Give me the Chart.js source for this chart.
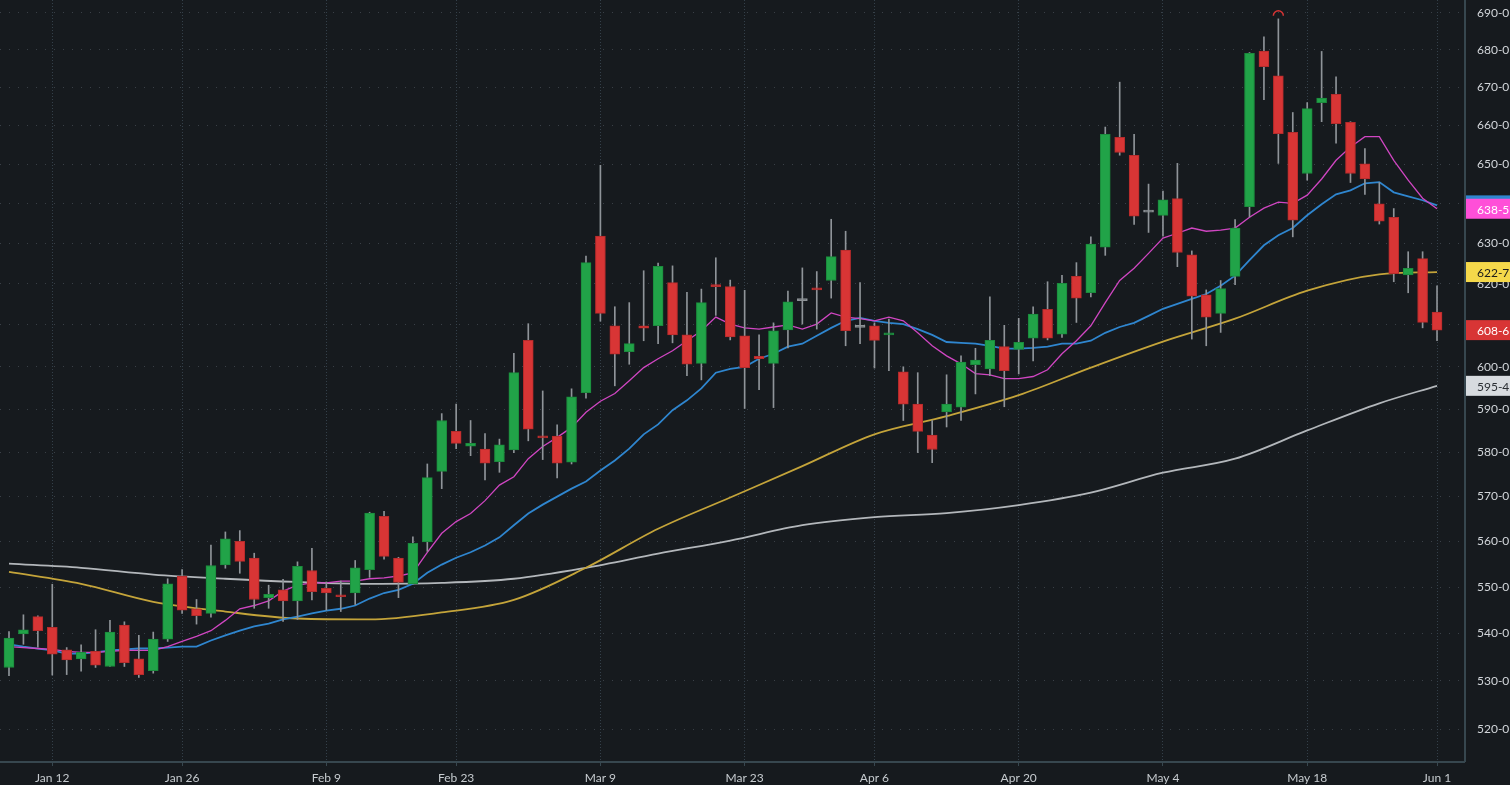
<!DOCTYPE html>
<html>
<head>
<meta charset="utf-8">
<script src="https://cdn.jsdelivr.net/npm/chart.js@4.4.1/dist/chart.umd.min.js"></script>
<style>
html, body { margin: 0; padding: 0; background: #161a1e; }
#wrap { width: 1510px; height: 785px; position: relative; }
</style>
</head>
<body>
<div id="wrap"><canvas id="chart"></canvas></div>
<script>
// Velas diarias (Jan 7 -> Jun 1), precios en centavos
const opens = [532.8, 539.9, 543.6, 541.3, 536.5, 534.6, 536.2, 533.0, 541.8, 534.6,
  532.1, 538.8, 552.4, 545.3, 544.3, 554.8, 560.0, 556.3, 547.7, 549.4,
  547.0, 553.6, 549.7, 548.2, 548.7, 553.8, 565.6, 556.3, 550.7, 559.9,
  575.7, 584.9, 581.5, 580.8, 577.9, 580.6, 606.3, 583.6, 583.8, 577.8,
  593.9, 631.8, 609.8, 603.6, 609.8, 609.8, 620.3, 607.6, 600.8, 619.8,
  619.3, 607.4, 602.5, 600.8, 608.8, 615.9, 618.7, 620.8, 628.3, 609.4,
  609.8, 607.6, 598.8, 591.2, 584.0, 589.4, 590.5, 600.5, 599.5, 604.8,
  604.1, 606.8, 613.8, 607.8, 621.8, 617.8, 629.0, 656.9, 652.3, 637.8,
  637.0, 641.2, 627.1, 617.3, 612.8, 621.8, 639.2, 679.7, 673.1, 658.2,
  647.6, 666.0, 668.2, 660.8, 650.1, 639.9, 636.5, 622.2, 626.2, 613.1];
const highs = [540.4, 544.0, 543.8, 550.6, 537.0, 537.6, 540.8, 542.8, 542.5, 539.6,
  540.3, 551.8, 553.8, 547.3, 559.2, 562.1, 562.4, 557.4, 550.4, 551.7,
  555.5, 558.5, 551.1, 551.3, 555.8, 566.5, 566.7, 556.5, 561.0, 577.4,
  589.0, 591.2, 587.4, 584.4, 583.1, 603.2, 610.3, 594.3, 586.4, 594.8,
  626.8, 649.7, 614.4, 615.4, 623.2, 625.1, 624.4, 617.9, 618.7, 626.4,
  620.9, 618.4, 607.6, 610.5, 618.2, 623.9, 623.0, 636.0, 633.0, 620.3,
  610.5, 611.4, 600.0, 598.6, 587.4, 598.1, 602.6, 604.4, 616.8, 609.9,
  611.6, 614.4, 620.5, 622.1, 625.2, 631.6, 659.6, 671.4, 657.7, 644.9,
  643.1, 650.2, 628.1, 618.5, 620.8, 635.9, 679.3, 683.5, 688.4, 663.4,
  666.0, 679.6, 672.8, 661.0, 654.0, 645.3, 638.7, 627.9, 627.9, 619.5];
const lows = [531.1, 537.7, 537.1, 531.2, 531.3, 532.0, 532.8, 533.0, 533.0, 530.7,
  531.6, 538.3, 544.3, 542.0, 543.5, 554.1, 553.0, 545.4, 545.4, 542.6,
  543.0, 547.2, 545.0, 544.7, 546.2, 552.1, 556.1, 547.7, 550.7, 557.8,
  571.8, 580.9, 579.3, 573.8, 575.5, 580.0, 582.7, 578.4, 574.2, 577.4,
  592.6, 610.9, 595.5, 600.6, 606.2, 605.5, 605.7, 597.9, 596.9, 612.3,
  606.4, 590.2, 594.6, 590.4, 604.5, 610.2, 609.0, 616.5, 605.0, 605.5,
  599.7, 599.1, 587.4, 580.0, 577.7, 585.9, 587.4, 593.6, 597.9, 590.6,
  598.3, 601.4, 606.4, 607.0, 610.6, 616.8, 627.0, 652.3, 634.7, 632.7,
  631.8, 624.2, 606.6, 605.0, 608.2, 619.8, 636.6, 666.8, 650.2, 631.6,
  645.9, 661.0, 655.4, 645.3, 642.3, 634.8, 620.5, 617.8, 609.3, 606.2];
const closes = [539.0, 540.8, 540.6, 535.6, 534.4, 536.0, 533.3, 540.3, 533.8, 531.3,
  538.8, 550.7, 545.0, 543.8, 554.7, 560.6, 555.6, 547.3, 548.4, 547.0,
  554.5, 549.0, 548.7, 547.9, 554.2, 566.3, 556.7, 551.0, 559.6, 574.3,
  587.4, 582.1, 582.1, 577.6, 581.8, 598.6, 585.4, 583.4, 577.6, 592.9,
  625.2, 612.8, 603.0, 605.5, 609.2, 624.3, 607.6, 600.6, 615.4, 619.3,
  607.1, 599.8, 601.9, 608.6, 615.6, 615.9, 618.5, 626.7, 608.6, 609.4,
  606.3, 608.0, 591.2, 584.9, 580.7, 591.2, 601.1, 601.6, 606.3, 599.1,
  605.8, 612.6, 606.8, 620.1, 616.5, 629.8, 657.7, 653.0, 636.8, 637.8,
  640.9, 627.7, 617.0, 611.9, 618.8, 633.8, 679.1, 675.5, 657.9, 635.8,
  664.4, 667.2, 660.5, 647.6, 646.2, 635.5, 622.5, 623.8, 610.6, 608.75];

// Medias móviles
const maFast = [537.2, 537.0, 536.8, 536.6, 536.2, 536.0, 536.0, 536.2, 536.4, 536.4,
  536.4, 537.2, 538.3, 539.4, 540.6, 542.8, 545.3, 546.0, 547.0, 549.1,
  550.4, 550.9, 550.9, 551.3, 551.3, 551.8, 552.0, 552.4, 553.1, 557.6,
  561.8, 564.4, 566.2, 569.1, 572.6, 574.5, 578.6, 581.4, 583.5, 585.8,
  589.3, 591.9, 593.7, 596.7, 599.8, 601.9, 603.8, 606.2, 608.6, 611.9,
  610.2, 609.3, 609.0, 609.5, 610.0, 609.0, 610.2, 612.9, 611.9, 611.5,
  611.0, 611.9, 611.0, 608.1, 605.0, 602.6, 600.7, 598.4, 598.1, 597.2,
  597.2, 597.7, 599.3, 603.1, 606.2, 609.8, 615.4, 620.8, 623.8, 627.5,
  631.3, 632.5, 633.8, 633.0, 633.3, 633.8, 636.5, 638.8, 640.3, 640.0,
  642.1, 646.2, 651.0, 654.4, 657.1, 657.1, 651.0, 645.9, 641.3, 638.65];
const maMid = [537.7, 537.2, 536.8, 536.4, 535.7, 535.7, 536.0, 536.4, 536.6, 536.8,
  536.8, 537.0, 537.2, 537.2, 538.5, 539.6, 540.6, 541.5, 542.1, 543.0,
  543.6, 544.3, 544.9, 545.3, 546.0, 547.5, 548.7, 549.4, 550.7, 553.1,
  554.9, 556.4, 557.6, 559.1, 560.9, 563.6, 566.2, 568.2, 570.0, 571.8,
  573.4, 575.9, 578.2, 580.9, 584.2, 586.5, 589.8, 592.1, 594.9, 598.6,
  599.5, 600.0, 601.9, 603.1, 604.8, 605.5, 607.4, 609.3, 611.0, 611.7,
  611.0, 610.5, 610.2, 609.0, 607.6, 605.9, 605.7, 605.5, 605.0, 604.3,
  604.3, 604.5, 604.8, 605.5, 605.5, 606.2, 608.1, 609.5, 610.5, 612.2,
  613.9, 615.1, 616.3, 617.5, 619.5, 622.0, 625.8, 629.5, 632.0, 633.8,
  637.0, 639.8, 642.3, 643.3, 645.1, 645.4, 642.8, 641.8, 640.8, 639.5];
const maSlowIdx = [0, 5, 10, 15, 20, 25, 30, 35, 40, 45, 50, 55, 60, 65, 70, 75, 80, 85, 90, 95, 99];
const maSlow = [553.3, 550.7, 546.8, 544.7, 543.2, 543.0, 544.5, 547.2, 554.2, 562.8,
  569.8, 576.9, 584.2, 588.4, 593.3, 599.8, 606.0, 611.5, 618.3, 622.3, 622.88];
const maLongIdx = [0, 5, 10, 15, 20, 25, 30, 35, 40, 45, 50, 55, 60, 65, 70, 75, 80, 85, 90, 95, 99];
const maLong = [555.1, 554.2, 552.7, 551.8, 551.1, 550.7, 550.9, 551.8, 554.2, 557.3,
  560.2, 563.6, 565.4, 566.3, 568.1, 570.9, 575.4, 578.6, 585.1, 591.4, 595.5];

const tickIdx = [3, 12, 22, 31, 41, 51, 60, 70, 80, 90, 99];
const tickLabels = ['Jan 12', 'Jan 26', 'Feb 9', 'Feb 23', 'Mar 9', 'Mar 23', 'Apr 6', 'Apr 20', 'May 4', 'May 18', 'Jun 1'];
const yTicks = [520, 530, 540, 550, 560, 570, 580, 590, 600, 610, 620, 630, 640, 650, 660, 670, 680, 690];

const GREEN = '#21a348', GREEN_B = '#1b8a3c';
const RED = '#d83535', RED_B = '#b42b2b';
const DOJI = '#8d9296';

const idx = closes.map((_, i) => i);
const bodyColors = idx.map(i => closes[i] > opens[i] ? GREEN : (closes[i] < opens[i] ? RED : DOJI));
const bodyBorders = idx.map(i => closes[i] > opens[i] ? GREEN_B : (closes[i] < opens[i] ? RED_B : DOJI));

// precio en octavos: 608.75 -> "608-6"
function eighths(v) {
    const w = Math.floor(v + 1e-6);
    const e = Math.floor((v - w) * 8 + 1e-6);
    return w + '-' + e;
}

const decor = {
    id: 'decor',
    afterDraw(chart) {
        const { ctx, chartArea: a, scales } = chart;
        const x = scales.x, y = scales.y;
        ctx.save();
        // ejes
        ctx.strokeStyle = '#37474f';
        ctx.lineWidth = 2;
        ctx.beginPath();
        ctx.moveTo(0, a.bottom + 1); ctx.lineTo(a.right + 1, a.bottom + 1);
        ctx.moveTo(a.right + 1, 0); ctx.lineTo(a.right + 1, a.bottom + 1);
        ctx.stroke();

        // marca del máximo
        let top = 0;
        highs.forEach((h, i) => { if (h > highs[top]) top = i; });
        ctx.strokeStyle = '#d83535';
        ctx.lineWidth = 1.5;
        ctx.beginPath();
        ctx.arc(x.getPixelForValue(top), y.getPixelForValue(highs[top]) - 3, 5, Math.PI, 2 * Math.PI);
        ctx.stroke();

        // etiquetas de último valor
        const tags = [
            [maMid[maMid.length - 1], '#2f86cf', '#ffffff'],
            [maFast[maFast.length - 1], '#ff4fd8', '#ffffff'],
            [maSlow[maSlow.length - 1], '#f5d84a', '#1b1b1b'],
            [closes[closes.length - 1], '#d83535', '#ffffff'],
            [maLong[maLong.length - 1], '#d7dbdf', '#2a2e33']
        ];
        ctx.font = '12px Lato, sans-serif';
        ctx.textBaseline = 'middle';
        ctx.textAlign = 'left';
        tags.forEach(([v, bg, fg]) => {
            const py = y.getPixelForValue(v);
            ctx.fillStyle = bg;
            ctx.fillRect(a.right + 2, py - 10, chart.width - a.right - 2, 20);
            ctx.fillStyle = fg;
            ctx.fillText(eighths(v), a.right + 13, py + 1);
        });
        ctx.restore();
    }
};

const ctx = document.getElementById('chart');
new Chart(ctx, {
    type: 'bar',
    data: {
        datasets: [{
            label: 'body',
            data: idx.map(i => ({ x: i, y: [opens[i], closes[i]] })),
            backgroundColor: bodyColors,
            borderColor: bodyBorders,
            borderWidth: 1,
            borderSkipped: false,
            barThickness: 10,
            minBarLength: 2,
            grouped: false,
            order: 1
        }, {
            label: 'wick',
            data: idx.map(i => ({ x: i, y: [lows[i], highs[i]] })),
            backgroundColor: '#8f9499',
            borderWidth: 0,
            barThickness: 1,
            grouped: false,
            order: 2
        }, {
            type: 'line',
            label: 'fast',
            data: maFast.map((v, i) => ({ x: i, y: v })),
            borderColor: '#d046c2',
            borderWidth: 1.3,
            pointRadius: 0,
            tension: 0,
            order: 3
        }, {
            type: 'line',
            label: 'mid',
            data: maMid.map((v, i) => ({ x: i, y: v })),
            borderColor: '#2f86cf',
            borderWidth: 1.8,
            pointRadius: 0,
            tension: 0,
            order: 4
        }, {
            type: 'line',
            label: 'slow',
            data: maSlowIdx.map((k, j) => ({ x: k, y: maSlow[j] })),
            borderColor: '#c4a43a',
            borderWidth: 1.8,
            pointRadius: 0,
            cubicInterpolationMode: 'monotone',
            order: 5
        }, {
            type: 'line',
            label: 'long',
            data: maLongIdx.map((k, j) => ({ x: k, y: maLong[j] })),
            borderColor: '#b3b7bb',
            borderWidth: 1.8,
            pointRadius: 0,
            cubicInterpolationMode: 'monotone',
            order: 6
        }]
    },
    options: {
        responsive: true,
        maintainAspectRatio: false,
        animation: false,
        events: [],
        layout: { padding: 0 },
        plugins: {
            legend: { display: false },
            tooltip: { enabled: false }
        },
        scales: {
            x: {
                type: 'linear',
                min: -0.624,
                max: 100.87,
                bounds: 'data',
                offset: false,
                afterBuildTicks: s => { s.ticks = tickIdx.map(v => ({ value: v })); },
                afterFit: s => {
                    s.height = 24;
                    s.paddingLeft = 0; s.paddingRight = 0;
                },
                grid: {
                    offset: false,
                    color: '#34404a',
                    drawTicks: true,
                    tickLength: 5,
                    tickColor: '#37474f',
                    tickWidth: 1,
                    tickBorderDash: []
                },
                border: { display: false, dash: [1, 2] },
                ticks: {
                    autoSkip: false,
                    maxRotation: 0,
                    padding: 5,
                    color: '#c6cbcf',
                    font: { family: 'Lato, sans-serif', size: 12 },
                    callback: v => tickLabels[tickIdx.indexOf(v)] || ''
                }
            },
            y: {
                type: 'logarithmic',
                position: 'right',
                min: 513.47,
                max: 693.55,
                bounds: 'data',
                afterBuildTicks: s => { s.ticks = yTicks.map(v => ({ value: v })); },
                afterFit: s => {
                    s.width = 46;
                    s.paddingTop = 0; s.paddingBottom = 0;
                },
                grid: { color: '#3a4047', drawTicks: false },
                border: { display: false, dash: [1, 8] },
                ticks: {
                    padding: 13,
                    color: '#d2d6da',
                    font: { family: 'Lato, sans-serif', size: 12 },
                    callback: v => v + '-0'
                }
            }
        }
    },
    plugins: [decor]
});
</script>
</body>
</html>
